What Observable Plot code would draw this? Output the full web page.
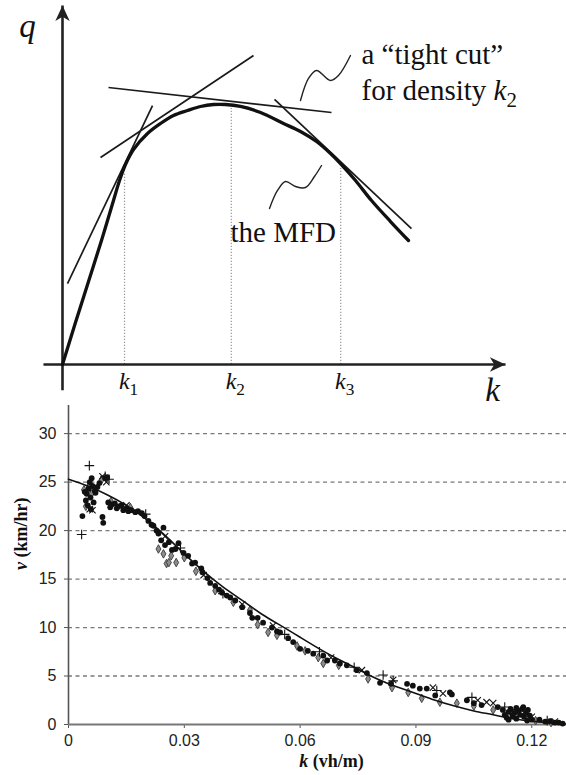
<!DOCTYPE html>
<html><head><meta charset="utf-8">
<script src="https://cdn.jsdelivr.net/npm/d3@7"></script>
<script src="https://cdn.jsdelivr.net/npm/@observablehq/plot@0.6"></script>
<style>
body{margin:0;background:#fff;width:566px;}
#topPanel svg,#bottomPanel svg{display:block;overflow:visible}
</style></head><body><div id="topPanel"></div><div id="bottomPanel"></div>
<script>
// ---------------- top panel: schematic MFD (arbitrary units 0..10) ----------------
const mfdK = [0, 0.293, 0.587, 0.880, 1.151, 1.287, 1.422, 1.603, 1.919, 2.212, 2.506, 2.822, 3.115, 3.409, 3.679, 4.018, 4.470, 4.989, 5.372, 5.734, 6.050, 6.275, 6.614, 6.975, 7.404, 7.810];
const mfdQ = [0, 1.170, 2.312, 3.454, 4.568, 5.125, 5.571, 5.989, 6.435, 6.713, 6.936, 7.075, 7.187, 7.242, 7.242, 7.187, 7.019, 6.713, 6.490, 6.212, 5.877, 5.599, 5.125, 4.568, 3.983, 3.454];
const densityK = [1.40, 3.81, 6.28];
const densityTop = [5.30, 7.13, 5.46];
const densityLabels = ["*k*_{1}", "*k*_{2}", "*k*_{3}"];
const cutK1 = [0.113, 0.858, 1.038, 4.786];
const cutQ1 = [2.256, 5.766, 7.716, 7.382];
const cutK2 = [2.032, 4.312, 6.072, 7.878];
const cutQ2 = [7.214, 8.607, 7.019, 3.788];
const leader1K = [5.372, 5.553, 5.734, 6.050, 6.230, 6.501];
const leader1Q = [7.354, 7.967, 8.189, 7.911, 8.050, 8.607];
const leader2K = [4.673, 4.853, 5.034, 5.260, 5.485, 5.688, 5.847];
const leader2Q = [4.345, 4.847, 5.097, 4.958, 4.930, 5.237, 5.543];
const annotations = ["a \u201ctight cut\u201d", "for density *k*_{2}", "the MFD"];
const annK = [6.749, 6.749, 3.792];
const annQ = [8.384, 7.354, 3.426];
const axisK1 = [-0.43, 0], axisQ1 = [0, -0.72], axisK2 = [10, 0], axisQ2 = [0, 10];
const axisNames = ["*q*", "*k*"];
const axisNameK = [-0.79, 9.71], axisNameQ = [9.11, -1.03];

// ---------------- bottom panel: speed-density data ----------------
const vTicks = [0, 5, 10, 15, 20, 25, 30];
const kTicks = [0, 0.03, 0.06, 0.09, 0.12];
const gridV = [5, 10, 15, 20, 25, 30];
const circlePts = [
 [0.0036,21.5],[0.0088,21.4],[0.0090,20.8],[0.0060,25.4],[0.0052,24.3],[0.0047,23.8],[0.0057,23.4],[0.0070,23.9],[0.0065,22.9],[0.0045,23.1],
 [0.0050,22.6],[0.0062,24.6],[0.0075,24.5],[0.0080,24.9],[0.0095,25.4],[0.0100,25.5],[0.0042,24.0],[0.0068,24.1],[0.0055,25.0],[0.0058,22.2],
 [0.0103,22.9],[0.0108,22.4],[0.0112,22.7],[0.0120,22.8],[0.0125,22.3],[0.0130,22.5],[0.0137,22.6],[0.0142,22.1],[0.0150,22.3],[0.0155,22.0],
 [0.0163,22.1],[0.0173,21.9],[0.0180,22.0],[0.0190,21.8],[0.0197,21.5],
 [0.0207,21.0],[0.0215,20.6],[0.0220,20.5],[0.0228,20.0],[0.0233,19.7],[0.0240,19.0],[0.0246,20.3],[0.0250,18.5],[0.0260,18.8],[0.0268,18.0],
 [0.0277,18.1],[0.0285,18.7],[0.0298,17.7],[0.0310,17.4],[0.0320,16.6],[0.0328,16.7],[0.0344,16.1],
 [0.0347,15.7],[0.0360,15.1],[0.0367,14.6],[0.0380,14.3],[0.0390,13.9],[0.0398,13.6],[0.0410,13.3],[0.0419,13.1],[0.0432,12.8],[0.0450,12.1],
 [0.0470,11.5],[0.0476,11.0],[0.0490,11.0],[0.0504,10.5],[0.0527,10.0],[0.0540,9.6],[0.0548,9.5],[0.0569,8.9],[0.0582,8.5],[0.0600,7.8],
 [0.0620,7.6],[0.0634,7.3],[0.0660,7.1],[0.0670,6.6],
 [0.0690,6.6],[0.0703,6.3],[0.0721,6.1],[0.0747,5.6],[0.0773,5.3],[0.0807,4.3],[0.0835,4.2],[0.0877,4.2],[0.0892,4.0],[0.0910,3.7],
 [0.0928,3.7],[0.0950,3.0],[0.0988,3.3],[0.0993,3.1],[0.1032,2.5],[0.1050,2.2],[0.1070,2.0],[0.1112,1.8],
 [0.1125,1.5],[0.1130,1.0],[0.1135,0.7],[0.1140,1.3],[0.1145,1.6],[0.1150,0.9],[0.1155,1.2],[0.1160,0.6],[0.1165,1.4],[0.1170,1.0],
 [0.1175,1.6],[0.1180,0.8],[0.1185,1.2],[0.1190,1.5],[0.1195,0.9],[0.1178,1.8],[0.1160,1.7],[0.1140,0.5],[0.1200,0.5],[0.1188,0.4],
 [0.1220,0.5],[0.1235,0.3],[0.1247,0.35],[0.1260,0.2],[0.1270,0.2],[0.1280,0.1]
];
const diamondPts = [
 [0.0045,22.5],[0.0052,24.5],[0.0040,24.2],[0.0060,23.8],[0.0085,25.2],[0.0110,23.0],[0.0160,22.4],[0.0233,18.1],[0.0246,17.6],[0.0254,16.6],
 [0.0260,16.7],[0.0266,17.4],[0.0279,16.7],[0.0300,17.2],[0.0330,15.8],[0.0380,13.8],[0.0427,12.6],[0.0470,11.8],[0.0490,10.3],[0.0517,9.5],
 [0.0540,9.2],[0.0592,8.1],[0.0613,7.6],[0.0647,6.9],[0.0660,6.3],[0.0700,6.1],[0.0776,4.7],[0.0838,3.8],[0.0880,3.3],[0.0915,2.7],
 [0.0962,2.3],[0.1006,2.2],[0.1050,1.9],[0.1100,1.5],[0.1160,0.9],[0.1210,0.4],[0.1250,0.2]
];
const plusPts = [
 [0.0054,26.7],[0.0034,19.6],[0.0095,25.6],[0.0105,25.3],[0.0200,21.7],[0.0290,18.2],[0.0400,13.5],[0.0560,9.3],[0.0650,7.5],[0.0740,5.9],
 [0.0815,5.1],[0.0841,4.5],[0.0954,3.5],[0.1045,2.8],[0.1130,1.8],[0.1180,1.1],[0.1240,0.4]
];
const timesPts = [
 [0.0055,22.2],[0.0062,22.1],[0.0088,25.6],[0.0098,25.0],[0.0150,22.6],[0.0250,19.4],[0.0350,15.4],[0.0450,12.4],[0.0530,10.2],[0.0680,6.9],
 [0.0760,5.6],[0.0841,4.6],[0.0944,3.8],[0.0970,3.2],[0.1060,2.5],[0.1083,2.3],[0.1100,2.2],[0.1150,1.4],[0.1200,0.8],[0.1260,0.3]
];
const fitPts = [
 [0.0000,25.3],[0.0050,24.6],[0.0100,23.7],[0.0150,22.6],[0.0200,21.2],[0.0250,19.5],[0.0300,17.6],[0.0350,15.8],[0.0400,14.2],[0.0450,12.8],
 [0.0500,11.4],[0.0550,10.2],[0.0600,9.0],[0.0650,7.8],[0.0700,6.7],[0.0750,5.7],[0.0800,4.7],[0.0850,3.9],[0.0900,3.2],[0.0950,2.5],
 [0.1000,1.9],[0.1050,1.4],[0.1100,1.0],[0.1150,0.6],[0.1200,0.35],[0.1250,0.15],[0.1290,0.05]
];

// ---------- helpers ----------
const idx = a => a.map((_, i) => i);
const arrowUp = {draw(ctx, size) {
  const r = Math.sqrt(size / Math.PI), L = 2.6 * r, W = 1.2 * r;
  ctx.moveTo(0, 0); ctx.lineTo(W, L); ctx.lineTo(0, 0.72 * L); ctx.lineTo(-W, L); ctx.closePath();
}};
const arrowRight = {draw(ctx, size) {
  const r = Math.sqrt(size / Math.PI), L = 2.6 * r, W = 1.2 * r;
  ctx.moveTo(0, 0); ctx.lineTo(-L, -W); ctx.lineTo(-0.72 * L, 0); ctx.lineTo(-L, W); ctx.closePath();
}};
function richify(svg) {
  d3.select(svg).selectAll("text").each(function() {
    if (this.querySelector("tspan")) return;
    const s = this.textContent;
    if (!/[*_]/.test(s)) return;
    this.textContent = "";
    const re = /\*([^*]+)\*|_\{([^}]+)\}|([^*_]+)/g;
    let m;
    while ((m = re.exec(s))) {
      const t = document.createElementNS("http://www.w3.org/2000/svg", "tspan");
      if (m[1]) { t.textContent = m[1]; t.setAttribute("font-style", "italic"); }
      else if (m[2]) { t.textContent = m[2]; t.setAttribute("font-size", "72%"); t.setAttribute("dy", "0.32em"); }
      else t.textContent = m[3];
      this.appendChild(t);
    }
  });
  return svg;
}
const serif = "'Liberation Serif', 'Times New Roman', serif";
const ink = "#111";

// ---------- top chart ----------
const topChart = Plot.plot({
  width: 566, height: 405,
  marginLeft: 62, marginRight: 61, marginTop: 5, marginBottom: 41,
  x: {domain: [0, 10], axis: null},
  y: {domain: [0, 10], axis: null},
  style: {background: "#fff", overflow: "visible", fontFamily: serif},
  marks: [
    Plot.ruleX(idx(densityK), {x: i => densityK[i], y1: 0, y2: i => densityTop[i], stroke: "#999", strokeWidth: 1.2, strokeDasharray: "1.2,1.8"}),
    Plot.link(idx(axisK1), {x1: i => axisK1[i], y1: i => axisQ1[i], x2: i => axisK2[i], y2: i => axisQ2[i], stroke: "#222", strokeWidth: 2.6}),
    Plot.dot([0], {x: () => axisK2[0], y: () => axisQ2[0], symbol: arrowRight, r: 6, fill: "#222", stroke: "none"}),
    Plot.dot([0], {x: () => axisK2[1], y: () => axisQ2[1], symbol: arrowUp, r: 6, fill: "#222", stroke: "none"}),
    Plot.link(idx(cutK1), {x1: i => cutK1[i], y1: i => cutQ1[i], x2: i => cutK2[i], y2: i => cutQ2[i], stroke: "#1a1a1a", strokeWidth: 1.7}),
    Plot.line(idx(mfdK), {x: i => mfdK[i], y: i => mfdQ[i], curve: "catmull-rom", stroke: ink, strokeWidth: 3.3}),
    Plot.line(idx(leader1K), {x: i => leader1K[i], y: i => leader1Q[i], curve: "catmull-rom", stroke: "#222", strokeWidth: 1.4}),
    Plot.line(idx(leader2K), {x: i => leader2K[i], y: i => leader2Q[i], curve: "catmull-rom", stroke: "#222", strokeWidth: 1.4}),
    Plot.text(annotations, {x: annK, y: annQ, text: d => d, textAnchor: "start", lineAnchor: "bottom", fontSize: 29, fontFamily: serif, fill: ink}),
    Plot.text(densityLabels, {x: densityK, y: () => -0.696, text: d => d, textAnchor: "middle", lineAnchor: "bottom", dx: 4, fontSize: 24, fontFamily: serif, fill: ink}),
    Plot.text(axisNames, {x: axisNameK, y: axisNameQ, text: d => d, textAnchor: "middle", lineAnchor: "bottom", fontSize: 33, fontFamily: serif, fill: ink})
  ]
});
document.getElementById("topPanel").appendChild(richify(topChart));

// ---------- bottom chart ----------
const bottomChart = Plot.plot({
  width: 566, height: 370,
  marginLeft: 68, marginRight: 0, marginTop: 0, marginBottom: 51,
  x: {domain: [0, 0.129]},
  y: {domain: [0, 32.9]},
  style: {background: "#fff", overflow: "visible", fontFamily: "'Liberation Sans', Arial, sans-serif", fontSize: "16px", color: "#222"},
  marks: [
    Plot.ruleY(gridV, {stroke: "#7a7a7a", strokeWidth: 1.3, strokeDasharray: "4,3.5"}),
    Plot.axisY(vTicks, {tickSize: 4, tickPadding: 8, label: null, fontSize: 16, stroke: "#555"}),
    Plot.axisX(kTicks, {tickSize: 4, tickPadding: 6, label: null, fontSize: 16, stroke: "#555", tickFormat: d => String(d)}),
    Plot.ruleX([0], {stroke: "#555", strokeWidth: 1.6}),
    Plot.ruleY([0], {stroke: "#777", strokeWidth: 2.2}),
    Plot.dot(diamondPts, {x: d => d[0], y: d => d[1], symbol: "diamond", r: 2.6, fill: "#8c8c8c", stroke: "#3a3a3a", strokeWidth: 0.9}),
    Plot.dot(plusPts, {x: d => d[0], y: d => d[1], symbol: "plus", r: 3.2, stroke: ink, strokeWidth: 1.1}),
    Plot.dot(timesPts, {x: d => d[0], y: d => d[1], symbol: "times", r: 3.0, stroke: ink, strokeWidth: 1.1}),
    Plot.dot(circlePts, {x: d => d[0], y: d => d[1], r: 2.9, fill: ink, stroke: "none"}),
    Plot.line(fitPts, {x: d => d[0], y: d => d[1], curve: "natural", stroke: ink, strokeWidth: 1.6}),
    Plot.text(["*k* (vh/m)"], {text: d => d, frameAnchor: "bottom", dx: 14, dy: 42, fontSize: 18, fontWeight: "bold", fontFamily: serif, fill: ink}),
    Plot.text(["*v* (km/hr)"], {text: d => d, frameAnchor: "left", rotate: -90, dx: -47, dy: 5, fontSize: 18, fontWeight: "bold", fontFamily: serif, fill: ink})
  ]
});
document.getElementById("bottomPanel").appendChild(richify(bottomChart));
</script></body></html>
